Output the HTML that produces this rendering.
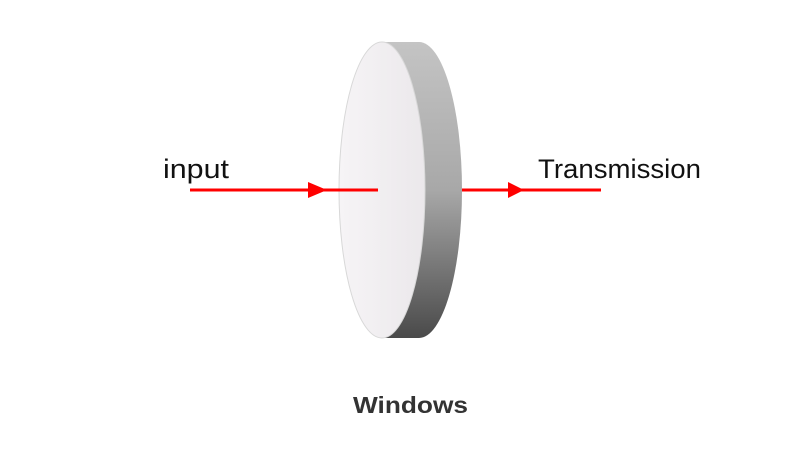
<!DOCTYPE html>
<html><head><style>html,body{margin:0;padding:0;background:#fff;}</style></head>
<body>
<svg width="808" height="446" viewBox="0 0 808 446" xmlns="http://www.w3.org/2000/svg">
<defs>
<linearGradient id="side" x1="0" y1="0" x2="0" y2="1">
<stop offset="0" stop-color="#c4c4c4"/>
<stop offset="0.5" stop-color="#a8a8a8"/>
<stop offset="1" stop-color="#4a4a4a"/>
</linearGradient>
<linearGradient id="front" x1="0" y1="0" x2="1" y2="0">
<stop offset="0" stop-color="#f6f4f6"/>
<stop offset="1" stop-color="#ebe8eb"/>
</linearGradient>
</defs>
<line x1="462" y1="190" x2="601" y2="190" stroke="#f00" stroke-width="3"/>
<polygon points="508,182 524,190 508,198" fill="#f00"/>
<ellipse cx="419" cy="190" rx="43" ry="148" fill="url(#side)"/>
<rect x="382" y="42" width="37" height="296" fill="url(#side)"/>
<ellipse cx="382" cy="190" rx="43" ry="148" fill="url(#front)" stroke="#d8d8d8" stroke-width="1"/>
<line x1="190" y1="190" x2="378" y2="190" stroke="#f00" stroke-width="3"/>
<polygon points="308,182 327,190 308,198" fill="#f00"/>
<text x="163" y="178" font-family="Liberation Sans, sans-serif" font-size="27" fill="#111" textLength="66" lengthAdjust="spacingAndGlyphs">input</text>
<text x="538" y="178" font-family="Liberation Sans, sans-serif" font-size="27" fill="#111" textLength="163" lengthAdjust="spacingAndGlyphs">Transmission</text>
<text x="353" y="413" font-family="Liberation Sans, sans-serif" font-size="23" font-weight="bold" fill="#333" textLength="115" lengthAdjust="spacingAndGlyphs">Windows</text>
</svg>
</body></html>
